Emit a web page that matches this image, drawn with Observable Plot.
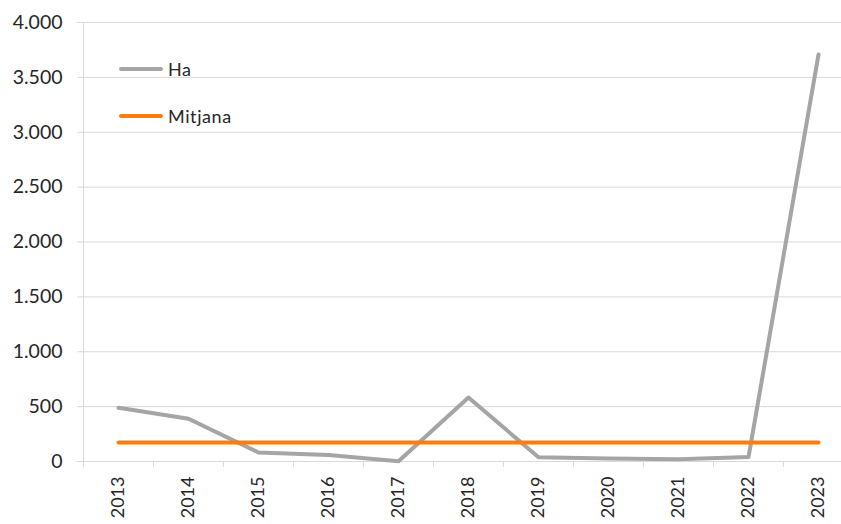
<!DOCTYPE html>
<html>
<head>
<meta charset="utf-8">
<script src="https://cdn.jsdelivr.net/npm/d3@7"></script>
<script src="https://cdn.jsdelivr.net/npm/@observablehq/plot@0.6"></script>
<style>
  html, body { margin: 0; padding: 0; background: #fff; }
  #wrap { position: relative; width: 841px; height: 524px; font-family: Lato, "Open Sans", sans-serif; }
  .leg { position: absolute; display: flex; align-items: center; font-size: 18px; color: #262626; letter-spacing: 0.6px; }
  .leg span.sw { display: inline-block; width: 44px; height: 4px; border-radius: 2px; margin-right: 5px; }
</style>
</head>
<body>
<div id="wrap"></div>
<script>
const years = [2013, 2014, 2015, 2016, 2017, 2018, 2019, 2020, 2021, 2022, 2023];
const ha = [490, 390, 82, 60, 3, 583, 38, 28, 20, 40, 3708];
const mitjana = [173, 173, 173, 173, 173, 173, 173, 173, 173, 173, 173];
const yTicks = [0, 500, 1000, 1500, 2000, 2500, 3000, 3500, 4000];

const seriesHa = years.map((y, i) => ({year: y, value: ha[i]}));
const seriesMit = years.map((y, i) => ({year: y, value: mitjana[i]}));
const boundaries = years.map(y => y - 0.5).concat([years[years.length - 1] + 0.5]);

const fmt = d => d3.format(",")(d).replace(/,/g, ".");

const chart = Plot.plot({
  width: 841,
  height: 524,
  marginLeft: 83,
  marginRight: 0,
  marginTop: 22,
  marginBottom: 63,
  style: {fontFamily: "Lato, 'Open Sans', sans-serif", background: "#fff"},
  x: {domain: [years[0] - 0.5, years[years.length - 1] + 0.5], range: [83, 853], axis: null},
  y: {domain: [0, 4000], axis: null},
  marks: [
    Plot.ruleY(yTicks, {stroke: "#d9d9d9", strokeWidth: 1}),
    Plot.axisY({ticks: yTicks, tickSize: 6, tickPadding: 15, stroke: "#d9d9d9", strokeOpacity: 1,
      fill: "#262626", fontSize: 19.5, tickFormat: fmt, label: null, style: "letter-spacing:0.8px"}),
    Plot.ruleX([boundaries[0]], {stroke: "#d9d9d9", strokeWidth: 1}),
    Plot.ruleX(boundaries, {y1: 0, y2: 0, insetBottom: -6, stroke: "#d9d9d9", strokeWidth: 1}),
    Plot.axisX({ticks: years, tickSize: 0, tickPadding: 15, tickRotate: -90, fill: "#262626",
      fontSize: 18, tickFormat: d => String(d), label: null, style: "letter-spacing:0.6px"}),
    Plot.line(seriesHa, {x: "year", y: "value", stroke: "#A5A5A5", strokeWidth: 4, strokeLinejoin: "round"}),
    Plot.line(seriesMit, {x: "year", y: "value", stroke: "#FF7C0A", strokeWidth: 4, strokeLinecap: "round"})
  ]
});

const wrap = document.getElementById("wrap");
wrap.appendChild(chart);

const legend = [
  {label: "Ha", color: "#A5A5A5", top: 58},
  {label: "Mitjana", color: "#FF7C0A", top: 105}
];
legend.forEach(l => {
  const d = document.createElement("div");
  d.className = "leg";
  d.style.left = "119px";
  d.style.top = l.top + "px";
  d.innerHTML = `<span class="sw" style="background:${l.color}"></span>${l.label}`;
  wrap.appendChild(d);
});
</script>
</body>
</html>
